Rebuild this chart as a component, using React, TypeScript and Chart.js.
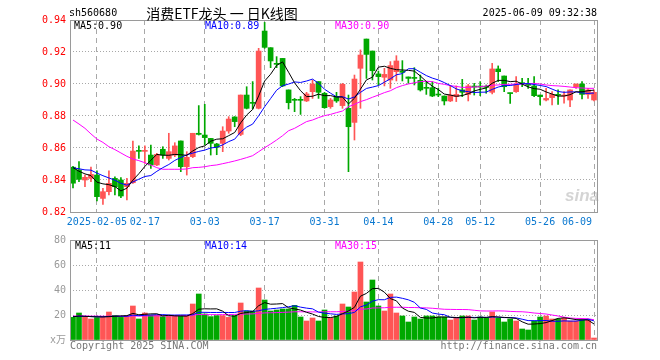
import React, { useEffect, useRef } from "react";
import { Chart, registerables } from "chart.js";

Chart.register(...registerables);

// ---- categories (trading days) ----
const dates: string[] = [
  "2025-01-22", "2025-01-23", "2025-01-24", "2025-01-27",
  "2025-02-05", "2025-02-06", "2025-02-07", "2025-02-10", "2025-02-11", "2025-02-12", "2025-02-13", "2025-02-14",
  "2025-02-17", "2025-02-18", "2025-02-19", "2025-02-20", "2025-02-21", "2025-02-24", "2025-02-25", "2025-02-26",
  "2025-02-27", "2025-02-28",
  "2025-03-03", "2025-03-04", "2025-03-05", "2025-03-06", "2025-03-07", "2025-03-10", "2025-03-11", "2025-03-12",
  "2025-03-13", "2025-03-14", "2025-03-17", "2025-03-18", "2025-03-19", "2025-03-20", "2025-03-21", "2025-03-24",
  "2025-03-25", "2025-03-26", "2025-03-27", "2025-03-28", "2025-03-31",
  "2025-04-01", "2025-04-02", "2025-04-03", "2025-04-07", "2025-04-08", "2025-04-09", "2025-04-10", "2025-04-11",
  "2025-04-14", "2025-04-15", "2025-04-16", "2025-04-17", "2025-04-18", "2025-04-21", "2025-04-22", "2025-04-23",
  "2025-04-24", "2025-04-25", "2025-04-28", "2025-04-29", "2025-04-30",
  "2025-05-06", "2025-05-07", "2025-05-08", "2025-05-09", "2025-05-12", "2025-05-13", "2025-05-14", "2025-05-15",
  "2025-05-16", "2025-05-19", "2025-05-20", "2025-05-21", "2025-05-22", "2025-05-23", "2025-05-26", "2025-05-27",
  "2025-05-28", "2025-05-29", "2025-05-30",
  "2025-06-03", "2025-06-04", "2025-06-05", "2025-06-06", "2025-06-09",
];

// ---- x tick labels ----
const axisDates = ["2025-02-05", "2025-02-17", "2025-03-03", "2025-03-17", "2025-03-31", "2025-04-14", "2025-04-28", "2025-05-12", "2025-05-26", "2025-06-09"];
const axisLabels = ["2025-02-05", "02-17", "03-03", "03-17", "03-31", "04-14", "04-28", "05-12", "05-26", "06-09"];

// ---- y tick values ----
const priceMin = 0.82;
const priceMax = 0.94;
const priceStep = 0.02;
const volMin = 0;
const volMax = 80;
const volStep = 20;

// ---- OHLC ----
const opens = [
  0.848, 0.8463, 0.84, 0.841, 0.8431, 0.8285, 0.8327, 0.841, 0.84, 0.8358,
  0.8383, 0.8585, 0.8579, 0.8556, 0.8494, 0.8592, 0.8535, 0.8556, 0.8644, 0.8483,
  0.8546, 0.8692, 0.8681, 0.866, 0.8625, 0.8629, 0.8706, 0.8794, 0.8685, 0.8931,
  0.888, 0.8848, 0.9331, 0.9227, 0.9125, 0.916, 0.8963, 0.8902, 0.8902, 0.8894,
  0.8952, 0.9015, 0.8942, 0.8858, 0.8921, 0.8865, 0.8848, 0.876, 0.9098, 0.9281,
  0.9206, 0.9063, 0.9042, 0.9025, 0.9077, 0.9081, 0.9044, 0.9037, 0.9023, 0.8975,
  0.8977, 0.8933, 0.8925, 0.8894, 0.8921, 0.8963, 0.8935, 0.8985, 0.8985, 0.8985,
  0.8948, 0.9094, 0.905, 0.8944, 0.8952, 0.9006, 0.8996, 0.8988, 0.8931, 0.89,
  0.8915, 0.8933, 0.8925, 0.89, 0.8983, 0.9, 0.8935, 0.89,
];
const highs = [
  0.8485, 0.8515, 0.8431, 0.848, 0.8458, 0.8348, 0.8458, 0.842, 0.8415, 0.841,
  0.8644, 0.8613, 0.8613, 0.8619, 0.8567, 0.8608, 0.8692, 0.8633, 0.8644, 0.8577,
  0.8692, 0.8865, 0.8873, 0.866, 0.8629, 0.8733, 0.8796, 0.8796, 0.8931, 0.8983,
  0.9015, 0.9223, 0.9385, 0.9227, 0.9171, 0.916, 0.8963, 0.891, 0.8921, 0.8948,
  0.9025, 0.9015, 0.8948, 0.891, 0.8948, 0.9004, 0.8931, 0.9056, 0.9213, 0.9281,
  0.9206, 0.9081, 0.9098, 0.914, 0.9177, 0.9146, 0.9044, 0.9102, 0.9056, 0.9013,
  0.9015, 0.8973, 0.8925, 0.8988, 0.8988, 0.9029, 0.8998, 0.9004, 0.9015, 0.8994,
  0.9129, 0.9113, 0.905, 0.8944, 0.9046, 0.9035, 0.9035, 0.9046, 0.8931, 0.8973,
  0.8952, 0.8963, 0.8952, 0.8963, 0.9, 0.9015, 0.8973, 0.8963,
];
const lows = [
  0.835, 0.839, 0.8358, 0.839, 0.8269, 0.8248, 0.8306, 0.8306, 0.829, 0.8275,
  0.8379, 0.8535, 0.8504, 0.8473, 0.849, 0.8535, 0.8525, 0.8546, 0.8452, 0.8431,
  0.854, 0.8681, 0.8619, 0.8556, 0.8558, 0.8577, 0.8692, 0.8733, 0.8677, 0.8844,
  0.8844, 0.8844, 0.9223, 0.9102, 0.9102, 0.8983, 0.8844, 0.8827, 0.881, 0.889,
  0.891, 0.891, 0.8848, 0.8848, 0.8885, 0.8848, 0.8452, 0.865, 0.8848, 0.9035,
  0.9025, 0.8994, 0.8988, 0.8973, 0.9019, 0.9019, 0.9004, 0.8994, 0.8956, 0.8935,
  0.8921, 0.8921, 0.8869, 0.889, 0.889, 0.8921, 0.8894, 0.8931, 0.8927, 0.8942,
  0.8938, 0.9015, 0.8952, 0.8879, 0.8948, 0.8983, 0.8973, 0.8921, 0.8869, 0.8894,
  0.8869, 0.8873, 0.888, 0.8858, 0.8973, 0.8906, 0.891, 0.8894,
];
const closes = [
  0.838, 0.8404, 0.8417, 0.8435, 0.8296, 0.8327, 0.8379, 0.8358, 0.83, 0.8379,
  0.8581, 0.8579, 0.8585, 0.8494, 0.856, 0.8556, 0.8577, 0.8613, 0.8483, 0.8542,
  0.8692, 0.8685, 0.8665, 0.8629, 0.8604, 0.8706, 0.8781, 0.8765, 0.8931, 0.8848,
  0.8879, 0.9206, 0.9229, 0.9144, 0.9123, 0.8988, 0.8883, 0.8898, 0.8898, 0.8938,
  0.9, 0.8948, 0.8852, 0.89, 0.8894, 0.8998, 0.8733, 0.9031, 0.9181, 0.9185,
  0.9083, 0.9046, 0.906, 0.9115, 0.9144, 0.9073, 0.9035, 0.9035, 0.8963, 0.8973,
  0.8925, 0.8931, 0.8894, 0.8931, 0.8935, 0.8948, 0.8988, 0.8981, 0.8981, 0.8979,
  0.9094, 0.9077, 0.8983, 0.894, 0.8994, 0.9002, 0.8992, 0.8927, 0.8921, 0.891,
  0.8935, 0.8929, 0.8929, 0.8963, 0.9, 0.8935, 0.8963, 0.8948,
];

// ---- volume (x万) ----
const volumes = [
  18.1, 21.6, 18.1, 16.8, 17.9, 18.1, 22.4, 19.7, 18.1, 19.2,
  27.2, 16.8, 21.6, 19.7, 19.7, 18.7, 19.2, 19.2, 19.2, 19.2,
  28.8, 36.8, 20.8, 18.7, 19.5, 19.5, 18.1, 19.5, 29.6, 23.2,
  23.2, 41.6, 32.0, 23.2, 24.0, 24.8, 24.8, 27.7, 18.4, 15.2,
  17.6, 15.2, 24.0, 17.9, 19.2, 28.8, 26.4, 38.4, 62.4, 30.4,
  48.0, 27.2, 23.2, 36.8, 21.6, 19.2, 14.4, 18.4, 16.8, 19.2,
  19.2, 18.4, 18.4, 16.0, 18.1, 19.2, 19.2, 16.0, 18.4, 17.6,
  22.4, 17.6, 14.4, 16.8, 15.2, 8.8, 8.0, 15.2, 18.4, 19.2,
  16.8, 16.8, 17.6, 15.2, 15.2, 16.0, 16.0, 1.6,
];

// closes / volumes of the sessions just before the window (read from where MA5/MA10 start)
const priorCloses = [0.846, 0.849, 0.845, 0.848, 0.849, 0.852, 0.85, 0.849, 0.85];
const priorVolumes = [18.5, 19.0, 18.2, 19.5, 18.8, 18.4, 19.3, 18.0, 18.9];

// ---- 30-day averages ----
const priceMa30 = [
  0.8775, 0.875, 0.8723, 0.8688, 0.8656, 0.8635, 0.8608, 0.859, 0.8569, 0.8548,
  0.8531, 0.8521, 0.8508, 0.8494, 0.8477, 0.8467, 0.8467, 0.8467, 0.8467, 0.8469,
  0.8477, 0.8479, 0.8483, 0.849, 0.8494, 0.8502, 0.851, 0.8519, 0.8529, 0.854,
  0.8552, 0.8577, 0.8602, 0.8625, 0.865, 0.8677, 0.8708, 0.8723, 0.8744, 0.8765,
  0.8775, 0.879, 0.8802, 0.881, 0.8821, 0.8831, 0.8858, 0.8873, 0.889, 0.8902,
  0.8917, 0.8931, 0.8946, 0.8958, 0.8977, 0.899, 0.9, 0.9008, 0.9015, 0.9017,
  0.9015, 0.9004, 0.8998, 0.899, 0.8985, 0.8979, 0.8979, 0.8981, 0.8983, 0.8988,
  0.8992, 0.8994, 0.8998, 0.8998, 0.9, 0.9, 0.9002, 0.9004, 0.9, 0.8994,
  0.899, 0.8988, 0.8985, 0.8981, 0.8977, 0.8975, 0.8973, 0.8973,
];
const volumeMa30 = [
  19.2, 19.2, 19.2, 19.1, 19.1, 19.0, 19.0, 19.0, 19.0, 19.0,
  19.2, 19.2, 19.2, 19.3, 19.3, 19.3, 19.3, 19.4, 19.5, 19.6,
  19.9, 20.4, 20.3, 20.3, 20.3, 20.3, 20.4, 20.5, 20.7, 20.8,
  20.9, 21.3, 21.7, 21.8, 21.9, 22.1, 22.3, 22.6, 22.6, 22.5,
  22.5, 22.4, 22.6, 22.6, 22.6, 22.8, 23.0, 23.6, 24.6, 24.8,
  25.6, 25.7, 25.8, 26.2, 26.2, 26.2, 26.0, 26.0, 25.8, 25.7,
  25.4, 25.0, 24.6, 24.5, 24.4, 24.4, 24.3, 23.8, 23.3, 23.2,
  23.2, 23.3, 23.2, 22.9, 22.7, 22.6, 22.2, 21.6, 21.2, 20.8,
  20.0, 19.2, 18.3, 17.6, 17.3, 17.2, 17.0, 16.2,
];

const UP = "#FF5555";
const DOWN = "#00A800";
const MONO = "'DejaVu Sans Mono', 'Noto Sans CJK SC', monospace";

function movingAverage(values: number[], prior: number[], n: number): number[] {
  const all = [...prior, ...values];
  return values.map((_, i) => {
    const end = prior.length + i;
    let s = 0;
    for (let k = end - n + 1; k <= end; k++) s += all[k];
    return s / n;
  });
}

const tickIndexSet = new Set(axisDates.map((d) => dates.indexOf(d)));

const framePlugin = {
  id: "frame",
  afterDraw(chart: any) {
    const { ctx, chartArea } = chart;
    const { left, top, right, bottom } = chartArea;
    ctx.save();
    ctx.strokeStyle = "#9a9a9a";
    ctx.lineWidth = 1;
    ctx.strokeRect(left + 0.5, top + 0.5, right - left, bottom - top);
    ctx.restore();
  },
};

const xLabelPlugin = {
  id: "xlabels",
  afterDraw(chart: any) {
    const { ctx, chartArea } = chart;
    const xs = chart.scales.x;
    ctx.save();
    ctx.font = `10px ${MONO}`;
    ctx.fillStyle = "#0A78D0";
    ctx.textAlign = "center";
    ctx.textBaseline = "middle";
    axisDates.forEach((d, k) => {
      const idx = dates.indexOf(d);
      const text = axisLabels[k];
      const w = ctx.measureText(text).width;
      let cx = xs.getPixelForValue(idx);
      const maxRight = chartArea.right - 5;
      if (cx + w / 2 > maxRight) cx = maxRight - w / 2;
      ctx.fillText(text, cx, chartArea.bottom + 10);
    });
    ctx.restore();
  },
};

function xScale(height: number) {
  return {
    type: "category" as const,
    offset: true,
    grid: {
      offset: false,
      drawTicks: false,
      lineWidth: 1,
      color: (c: any) => (tickIndexSet.has(c.index) ? "#a8a8a8" : "rgba(0,0,0,0)"),
    },
    border: { display: false, dash: [5, 4] },
    ticks: { display: false },
    afterFit: (s: any) => {
      s.height = height;
    },
  };
}

export default function App() {
  const priceRef = useRef<HTMLCanvasElement>(null);
  const volRef = useRef<HTMLCanvasElement>(null);

  useEffect(() => {
    const colors = closes.map((c, i) => (c >= opens[i] ? UP : DOWN));
    const ma5 = movingAverage(closes, priorCloses, 5);
    const ma10 = movingAverage(closes, priorCloses, 10);
    const vma5 = movingAverage(volumes, priorVolumes, 5);
    const vma10 = movingAverage(volumes, priorVolumes, 10);

    const lineDs = (data: number[], color: string) => ({
      type: "line" as const,
      data,
      borderColor: color,
      borderWidth: 1,
      pointRadius: 0,
      tension: 0,
      order: 0,
    });

    const priceChart = new Chart(priceRef.current as HTMLCanvasElement, {
      type: "bar",
      data: {
        labels: dates,
        datasets: [
          lineDs(ma5, "#000000"),
          lineDs(ma10, "#0000FF"),
          lineDs(priceMa30, "#FF00FF"),
          {
            type: "bar",
            data: opens.map((o, i) => [o, closes[i]]),
            backgroundColor: colors,
            borderWidth: 0,
            barThickness: 5,
            minBarLength: 1,
            grouped: false,
            order: 1,
          } as any,
          {
            type: "bar",
            data: lows.map((l, i) => [l, highs[i]]),
            backgroundColor: colors,
            borderWidth: 0,
            barThickness: 1,
            grouped: false,
            order: 2,
          } as any,
        ],
      },
      options: {
        animation: false,
        responsive: false,
        devicePixelRatio: 1,
        events: [],
        layout: { padding: { left: 0, right: 63, top: 20, bottom: 0 } },
        plugins: { legend: { display: false }, tooltip: { enabled: false } },
        scales: {
          x: xScale(18),
          y: {
            min: priceMin,
            max: priceMax,
            grid: { color: "#a8a8a8", drawTicks: false, lineWidth: 1 },
            border: { display: false, dash: [1, 2] },
            ticks: {
              stepSize: priceStep,
              color: "#FF0000",
              padding: 4,
              font: { family: MONO, size: 10 },
              callback: (v: any) => Number(v).toFixed(2),
            },
            afterFit: (s: any) => {
              s.width = 70;
            },
          },
        },
      } as any,
      plugins: [framePlugin, xLabelPlugin],
    });

    const volChart = new Chart(volRef.current as HTMLCanvasElement, {
      type: "bar",
      data: {
        labels: dates,
        datasets: [
          lineDs(vma5, "#000000"),
          lineDs(vma10, "#0000FF"),
          lineDs(volumeMa30, "#FF00FF"),
          {
            type: "bar",
            data: volumes,
            backgroundColor: colors,
            borderWidth: 0,
            barThickness: 5,
            grouped: false,
            order: 1,
          } as any,
        ],
      },
      options: {
        animation: false,
        responsive: false,
        devicePixelRatio: 1,
        events: [],
        layout: { padding: { left: 0, right: 63, top: 10, bottom: 0 } },
        plugins: { legend: { display: false }, tooltip: { enabled: false } },
        scales: {
          x: xScale(20),
          y: {
            min: volMin,
            max: volMax,
            grid: { color: "#a8a8a8", drawTicks: false, lineWidth: 1 },
            border: { display: false, dash: [1, 2] },
            ticks: {
              stepSize: volStep,
              color: "#999999",
              padding: 4,
              font: { family: MONO, size: 10 },
              callback: (v: any) => (Number(v) === 0 ? "x万" : String(v)),
            },
            afterFit: (s: any) => {
              s.width = 70;
            },
          },
        },
      } as any,
      plugins: [framePlugin],
    });

    return () => {
      priceChart.destroy();
      volChart.destroy();
    };
  }, []);

  const txt = (
    key: string,
    x: number,
    y: number,
    text: string,
    color: string,
    size = 10,
    align: "left" | "right" | "center" = "left",
    family = MONO
  ) => {
    const lh = size + 4;
    const style: any = {
      position: "absolute",
      top: y - lh / 2,
      fontFamily: family,
      fontSize: size,
      lineHeight: `${lh}px`,
      color,
      whiteSpace: "nowrap",
    };
    if (align === "left") style.left = x;
    else if (align === "right") style.right = 660 - x;
    else {
      style.left = x;
      style.transform = "translateX(-50%)";
    }
    return (
      <div key={key} style={style}>
        {text}
      </div>
    );
  };

  return (
    <div
      style={{
        position: "absolute",
        left: 0,
        top: 0,
        width: 660,
        height: 360,
        background: "#ffffff",
        overflow: "hidden",
      }}
    >
      <canvas ref={priceRef} width={660} height={230} style={{ position: "absolute", left: 0, top: 0, width: 660, height: 230 }} />
      <canvas ref={volRef} width={660} height={130} style={{ position: "absolute", left: 0, top: 230, width: 660, height: 130 }} />
      {txt("code", 69, 13, "sh560680", "#000000")}
      {txt("title", 222, 13, "消费ETF龙头 一 日K线图", "#000000", 14, "center", "'Noto Sans CJK SC', sans-serif")}
      {txt("time", 597, 13, "2025-06-09 09:32:38", "#000000", 10, "right")}
      {txt("pma5", 74, 26, "MA5:0.90", "#000000")}
      {txt("pma10", 205, 26, "MA10:0.89", "#0000FF")}
      {txt("pma30", 335, 26, "MA30:0.90", "#FF00FF")}
      {txt("vma5", 75, 246, "MA5:11", "#000000")}
      {txt("vma10", 205, 246, "MA10:14", "#0000FF")}
      {txt("vma30", 335, 246, "MA30:15", "#FF00FF")}
      {txt("copy", 70, 346, "Copyright 2025 SINA.COM", "#777777")}
      {txt("url", 597, 346, "http://finance.sina.com.cn", "#777777", 10, "right")}
      <div
        style={{
          position: "absolute",
          left: 565,
          top: 186,
          fontFamily: "'Liberation Sans', sans-serif",
          fontStyle: "italic",
          fontWeight: "bold",
          fontSize: 17,
          lineHeight: "20px",
          color: "rgba(160,160,160,0.45)",
        }}
      >
        sina
      </div>
    </div>
  );
}
